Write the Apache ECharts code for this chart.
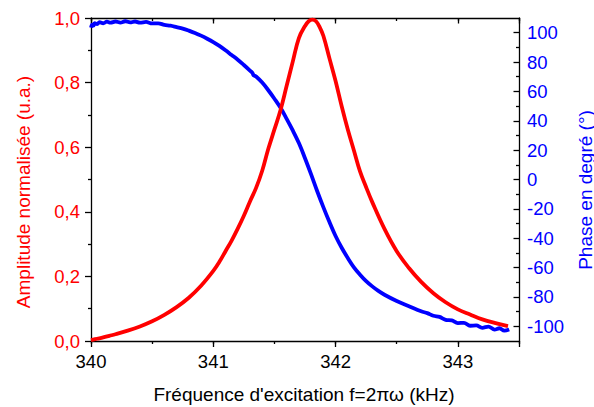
<!DOCTYPE html>
<html><head><meta charset="utf-8">
<script src="https://cdn.jsdelivr.net/npm/echarts@6/dist/echarts.min.js"></script>
<style>html,body{margin:0;padding:0;background:#fff}#c{width:594px;height:407px}</style>
</head><body><div id="c"></div>
<script>
// ---- data ----
const freqRed = [340.00,340.05,340.10,340.15,340.20,340.30,340.40,340.50,340.60,340.70,340.80,340.90,341.00,341.05,341.10,341.15,341.20,341.25,341.30,341.35,341.40,341.45,341.50,341.55,341.60,341.65,341.70,341.75,341.78,341.81,341.84,341.87,341.90,341.95,342.00,342.05,342.10,342.15,342.20,342.25,342.30,342.40,342.50,342.60,342.70,342.80,342.90,343.00,343.10,343.20,343.30,343.41];
const ampRed = [0.003,0.007,0.011,0.016,0.021,0.032,0.045,0.061,0.081,0.105,0.134,0.171,0.217,0.245,0.278,0.311,0.348,0.388,0.432,0.474,0.527,0.595,0.655,0.715,0.790,0.865,0.938,0.975,0.990,0.995,0.990,0.972,0.945,0.875,0.805,0.727,0.655,0.590,0.525,0.476,0.430,0.347,0.278,0.226,0.183,0.148,0.120,0.098,0.082,0.067,0.056,0.046];

const freqBlue = [340.00,340.01,340.02,340.03,340.05,340.07,340.10,340.13,340.16,340.20,340.24,340.28,340.32,340.36,340.40,340.45,340.50,340.55,340.60,340.65,340.70,340.75,340.80,340.85,340.90,340.95,341.00,341.05,341.10,341.15,341.20,341.25,341.30,341.32,341.33,341.35,341.40,341.45,341.50,341.55,341.60,341.65,341.70,341.75,341.80,341.85,341.90,341.95,342.00,342.05,342.10,342.15,342.20,342.25,342.30,342.35,342.40,342.50,342.60,342.70,342.75,342.80,342.85,342.90,342.95,343.00,343.05,343.10,343.15,343.20,343.25,343.30,343.34,343.38,343.42];
const phaseBlue = [103.5,105.5,104.8,106.5,105.8,107.2,106.4,107.5,106.8,107.6,106.9,107.8,107.0,107.6,106.8,107.3,106.3,106.4,105.3,104.8,103.8,102.8,101.4,99.8,98.0,95.9,93.6,91.0,88.0,84.8,81.6,78.0,74.2,72.6,71.0,70.2,66.0,60.8,55.0,48.8,41.3,33.4,24.8,14.5,3.5,-8.0,-18.8,-29.0,-38.5,-46.5,-53.5,-59.8,-64.8,-69.2,-72.8,-75.9,-78.5,-82.8,-86.3,-89.8,-91.0,-92.8,-93.6,-95.6,-96.0,-97.8,-97.6,-99.6,-99.4,-101.0,-100.2,-102.2,-101.3,-103.0,-102.2];

const freqTickLabels = ['340','341','342','343'];
const ampTickLabels = ['0,0','0,2','0,4','0,6','0,8','1,0'];
const phaseTickLabels = ['-100','-80','-60','-40','-20','0','20','40','60','80','100'];

const xTitle = "Fréquence d'excitation f=2πω (kHz)";
const yLeftTitle = 'Amplitude normalisée (u.a.)';
const yRightTitle = 'Phase en degré (°)';

// ---- layout ----
const FONT = '"Liberation Sans", Arial, sans-serif';
const RED = '#ff0000', BLUE = '#0000ff', INK = '#000000';
const GL = 91, GT = 18, GW = 428, GH = 323;
const PH_MIN = -110, PH_MAX = 110, PH_TICK_MIN = -100, PH_TICK_MAX = 100;
const g2Top = GT + (PH_MAX - PH_TICK_MAX) / (PH_MAX - PH_MIN) * GH;
const g2H = (PH_TICK_MAX - PH_TICK_MIN) / (PH_MAX - PH_MIN) * GH;
const LW = 1.3;

const tick = (inside, len) => ({show: true, inside: inside, length: len, lineStyle: {color: INK, width: LW}});
const noLabel = {show: false};
const line = (show) => ({show: show, onZero: false, lineStyle: {color: INK, width: LW}});

const chart = echarts.init(document.getElementById('c'), null, {renderer: 'svg'});
chart.setOption({
  animation: false,
  backgroundColor: '#fff',
  grid: [
    {left: GL, top: GT, width: GW, height: GH, containLabel: false},
    {left: GL, top: g2Top, width: GW, height: g2H, containLabel: false}
  ],
  xAxis: [
    {type: 'value', gridIndex: 0, position: 'bottom', min: 340, max: 343.5, interval: 0.5,
     axisLine: line(true), axisTick: tick(false, 3), axisLabel: noLabel, splitLine: {show: false}},
    {type: 'value', gridIndex: 0, position: 'bottom', min: 340, max: 343.5, interval: 1,
     axisLine: line(false), axisTick: tick(false, 6), splitLine: {show: false},
     axisLabel: {show: true, margin: 11, color: INK, fontFamily: FONT, fontSize: 18.5,
       showMinLabel: true, showMaxLabel: true,
       formatter: (v, i) => freqTickLabels[i] !== undefined ? freqTickLabels[i] : ''}},
    {type: 'value', gridIndex: 0, position: 'top', min: 340, max: 343.5, interval: 0.5,
     axisLine: line(true), axisTick: tick(true, 3), axisLabel: noLabel, splitLine: {show: false}},
    {type: 'value', gridIndex: 0, position: 'top', min: 340, max: 343.5, interval: 1,
     axisLine: line(false), axisTick: tick(true, 5.5), axisLabel: noLabel, splitLine: {show: false}},
    {type: 'value', gridIndex: 1, show: false, min: 340, max: 343.5,
     axisLine: {show: false, onZero: false}, axisTick: {show: false}, axisLabel: noLabel, splitLine: {show: false}}
  ],
  yAxis: [
    {type: 'value', gridIndex: 0, position: 'left', min: 0, max: 1, interval: 0.2,
     axisLine: line(true), axisTick: tick(false, 6),
     minorTick: {show: true, splitNumber: 2, length: 3, lineStyle: {color: INK, width: LW}},
     splitLine: {show: false},
     axisLabel: {show: true, margin: 11, color: RED, fontFamily: FONT, fontSize: 18.5,
       showMinLabel: true, showMaxLabel: true,
       formatter: (v, i) => ampTickLabels[i] !== undefined ? ampTickLabels[i] : ''}},
    {type: 'value', gridIndex: 0, position: 'right', min: PH_MIN, max: PH_MAX,
     axisLine: line(true), axisTick: {show: false}, axisLabel: noLabel, splitLine: {show: false}},
    {type: 'value', gridIndex: 1, position: 'right', min: PH_TICK_MIN, max: PH_TICK_MAX, interval: 20,
     axisLine: line(false), axisTick: tick(true, 5.5),
     minorTick: {show: true, splitNumber: 2, length: 3, lineStyle: {color: INK, width: LW}},
     splitLine: {show: false},
     axisLabel: {show: true, margin: 8, color: BLUE, fontFamily: FONT, fontSize: 18.5,
       showMinLabel: true, showMaxLabel: true,
       formatter: (v, i) => phaseTickLabels[i] !== undefined ? phaseTickLabels[i] : ''}}
  ],
  series: [
    {type: 'line', name: 'Phase', xAxisIndex: 0, yAxisIndex: 1, clip: false,
     data: freqBlue.map((f, i) => [f, phaseBlue[i]]), showSymbol: false, smooth: 0.35,
     lineStyle: {color: BLUE, width: 3.8}, itemStyle: {color: BLUE}},
    {type: 'line', name: 'Amplitude', xAxisIndex: 0, yAxisIndex: 0, clip: false,
     data: freqRed.map((f, i) => [f, ampRed[i]]), showSymbol: false, smooth: 0.4,
     lineStyle: {color: RED, width: 3.8}, itemStyle: {color: RED}}
  ],
  graphic: [
    {type: 'text', x: 304, y: 394, silent: true,
     style: {text: xTitle, fill: INK, font: '19px ' + FONT, align: 'center', verticalAlign: 'middle'}},
    {type: 'text', x: 23, y: 192, rotation: Math.PI / 2, silent: true,
     style: {text: yLeftTitle, fill: RED, font: '19px ' + FONT, align: 'center', verticalAlign: 'middle'}},
    {type: 'text', x: 585, y: 190, rotation: Math.PI / 2, silent: true,
     style: {text: yRightTitle, fill: BLUE, font: '19px ' + FONT, align: 'center', verticalAlign: 'middle'}}
  ]
});
</script></body></html>
